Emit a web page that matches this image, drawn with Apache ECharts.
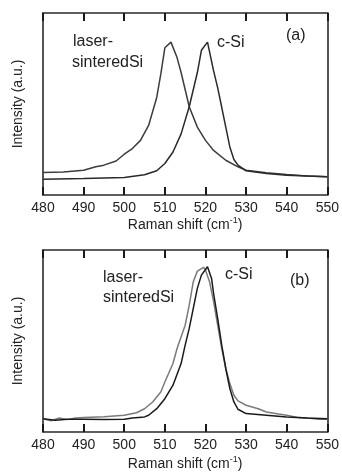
<!DOCTYPE html>
<html>
<head>
<meta charset="utf-8">
<script src="https://cdn.jsdelivr.net/npm/echarts@6/dist/echarts.min.js"></script>
<style>
  html, body { margin: 0; padding: 0; background: #fff; }
  #chart { width: 342px; height: 473px; }
</style>
</head>
<body>
<div id="chart"></div>
<script>
// panel (a)
const shiftLaserA = [480, 485, 490, 493, 495, 498, 500, 502, 504, 506, 508, 509, 510, 511.5, 513, 514, 516, 518, 520, 522, 525, 528, 530, 535, 540, 545, 550];
const intensLaserA = [12.4, 12.7, 13.6, 15.5, 16.4, 18.7, 22.4, 25.5, 30, 38.2, 53.6, 66.4, 80.9, 84, 75.5, 67.3, 48.5, 37.3, 30, 24.5, 19.1, 15.5, 13.6, 12.2, 11.3, 10.5, 10];
const shiftCSiA = [480, 490, 500, 505, 508, 510, 512, 514, 516, 518, 519, 520.5, 522, 523, 524, 525, 526, 527, 528, 530, 535, 540, 550];
const intensCSiA = [8.7, 9.1, 9.6, 11.1, 13.3, 17.3, 23.6, 33.6, 48.5, 67.3, 79.5, 84, 68.2, 59, 48.2, 37.3, 26.4, 19.5, 16.4, 13.3, 11.8, 10.9, 10];

// panel (b)
const shiftLaserB = [480, 482, 484, 486, 488, 490, 495, 500, 503, 505, 507, 509, 510, 512, 513, 515, 516, 517, 518, 519.5, 520, 521, 522, 523, 524, 525, 526, 527, 528, 530, 533, 535, 538, 540, 543, 545, 548, 550];
const intensLaserB = [7.3, 6.2, 7.7, 6.8, 7.7, 7.9, 8.4, 9.2, 10.6, 12.8, 16.5, 22, 27.5, 37.6, 45.9, 58.7, 69.7, 82.6, 88.4, 90.5, 89, 82.6, 71.6, 58.7, 45.9, 34.9, 26.6, 20.2, 17.1, 14.7, 12.8, 11, 9.9, 9.2, 7.9, 7.7, 7, 7];
const shiftCSiB = [480, 483, 486, 490, 495, 500, 502, 505, 506, 508, 510, 512, 514, 515, 516, 517, 518, 519, 520.5, 521.5, 522, 523, 524, 525, 526, 527, 528, 530, 535, 540, 545, 550];
const intensCSiB = [7.3, 6.4, 7, 7, 6.8, 7, 7.7, 8.3, 9.2, 12.8, 18.3, 25.7, 37.6, 47.7, 56.9, 67.9, 78.9, 86.2, 90.8, 84.4, 76.1, 62.4, 47.7, 34.9, 23.9, 16.5, 12.5, 10.1, 9.2, 8.3, 7.7, 7.3];

const xTicks = [480, 490, 500, 510, 520, 530, 540, 550];

const textColor = '#222';
const frameColor = '#2a2a2a';
const tickColor = '#1a1a1a';
const fontFamily = 'Liberation Sans, Arial, sans-serif';

const pairs = (xs, ys) => xs.map((x, i) => [x, ys[i]]);

const grids = [
  { left: 43, right: 11, top: 13, height: 182 },
  { left: 43, right: 11, top: 250, height: 182 }
];

function frameLine() {
  return { show: true, onZero: false, lineStyle: { color: frameColor, width: 1.6 } };
}
function innerTick() {
  return { show: true, inside: true, length: 8, lineStyle: { color: tickColor, width: 2 } };
}

function bottomAxis(gi, gap) {
  return {
    type: 'value', gridIndex: gi, position: 'bottom',
    min: xTicks[0], max: xTicks[xTicks.length - 1], interval: 10,
    name: 'Raman shift (cm{sup|-1})',
    nameLocation: 'middle', nameGap: gap,
    nameTextStyle: {
      color: textColor, fontSize: 14, fontFamily: fontFamily,
      rich: { sup: { fontSize: 9, color: textColor, fontFamily: fontFamily, verticalAlign: 'bottom', padding: [0, 0, 9, 0] } }
    },
    axisLine: frameLine(),
    axisTick: innerTick(),
    axisLabel: { color: textColor, fontSize: 14, fontFamily: fontFamily, margin: 6 },
    splitLine: { show: false }
  };
}

function topAxis(gi) {
  return {
    type: 'value', gridIndex: gi, position: 'top',
    min: xTicks[0], max: xTicks[xTicks.length - 1], interval: 10,
    axisLine: frameLine(),
    axisTick: innerTick(),
    axisLabel: { show: false },
    splitLine: { show: false }
  };
}

function leftAxis(gi) {
  return {
    type: 'value', gridIndex: gi, position: 'left', min: 0, max: 100,
    name: 'Intensity (a.u.)', nameLocation: 'middle', nameGap: 18,
    nameTextStyle: { color: textColor, fontSize: 14, fontFamily: fontFamily },
    axisLine: frameLine(),
    axisTick: { show: false }, axisLabel: { show: false }, splitLine: { show: false }
  };
}

function rightAxis(gi) {
  return {
    type: 'value', gridIndex: gi, position: 'right', min: 0, max: 100,
    axisLine: frameLine(),
    axisTick: { show: false }, axisLabel: { show: false }, splitLine: { show: false }
  };
}

function curve(xi, yi, data, color) {
  return {
    type: 'line', xAxisIndex: xi, yAxisIndex: yi, data: data,
    showSymbol: false, smooth: false, silent: true,
    lineStyle: { color: color, width: 1.5 }
  };
}

const label = (text, x, y) => ({
  type: 'text', left: x, top: y,
  style: { text: text, fill: textColor, fontSize: 16, fontFamily: fontFamily }
});

const chart = echarts.init(document.getElementById('chart'));
chart.setOption({
  backgroundColor: '#fff',
  animation: false,
  grid: grids,
  xAxis: [bottomAxis(0, 20), topAxis(0), bottomAxis(1, 23), topAxis(1)],
  yAxis: [leftAxis(0), rightAxis(0), leftAxis(1), rightAxis(1)],
  series: [
    curve(0, 0, pairs(shiftLaserA, intensLaserA), '#3c3c3c'),
    curve(0, 0, pairs(shiftCSiA, intensCSiA), '#2a2a2a'),
    curve(2, 2, pairs(shiftLaserB, intensLaserB), '#7a7a7a'),
    curve(2, 2, pairs(shiftCSiB, intensCSiB), '#1a1a1a')
  ],
  graphic: [
    label('laser-', 73, 34),
    label('sinteredSi', 72, 55),
    label('c-Si', 217, 35),
    label('(a)', 286, 28),
    label('laser-', 103, 270),
    label('sinteredSi', 103, 290),
    label('c-Si', 225, 267),
    label('(b)', 290, 273)
  ]
});
</script>
</body>
</html>
